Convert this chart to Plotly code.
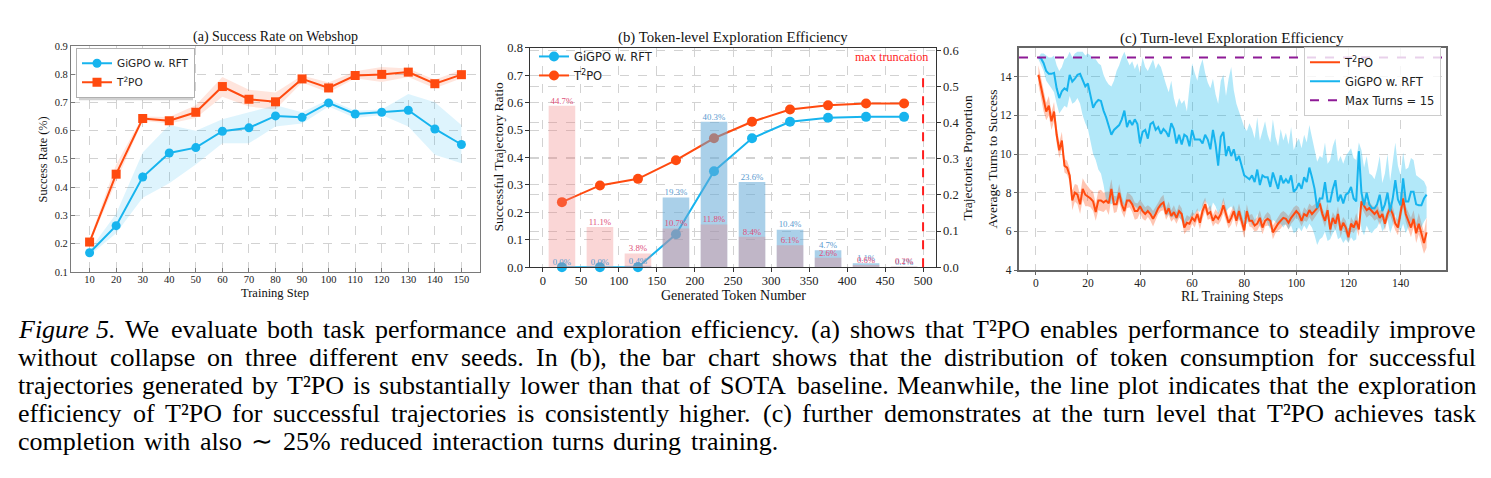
import re
import plotly.graph_objects as go

# ---------------- data: panel (a) Success Rate on Webshop ----------------
steps_a = [10, 20, 30, 40, 50, 60, 70, 80, 90, 100, 110, 120, 130, 140, 150]
gigpo_sr = [0.168, 0.264, 0.436, 0.521, 0.540, 0.598, 0.610, 0.652, 0.647, 0.698, 0.659, 0.665, 0.672, 0.606, 0.551]
gigpo_sr_lo = [0.158, 0.237, 0.363, 0.414, 0.480, 0.555, 0.555, 0.615, 0.625, 0.685, 0.645, 0.655, 0.615, 0.515, 0.485]
gigpo_sr_hi = [0.178, 0.306, 0.523, 0.620, 0.600, 0.640, 0.665, 0.690, 0.665, 0.710, 0.670, 0.675, 0.730, 0.700, 0.620]
t2po_sr = [0.206, 0.446, 0.643, 0.635, 0.665, 0.756, 0.711, 0.702, 0.783, 0.751, 0.795, 0.799, 0.807, 0.766, 0.798]
t2po_sr_lo = [0.198, 0.420, 0.635, 0.625, 0.645, 0.720, 0.685, 0.675, 0.770, 0.735, 0.785, 0.772, 0.790, 0.750, 0.785]
t2po_sr_hi = [0.214, 0.480, 0.650, 0.648, 0.690, 0.790, 0.745, 0.735, 0.795, 0.770, 0.810, 0.825, 0.820, 0.780, 0.815]

# ---------------- data: panel (b) Token-level Exploration Efficiency ----------------
token_bins = [25, 75, 125, 175, 225, 275, 325, 375, 425, 475]
gigpo_ratio = [0.0, 0.0, 0.0, 0.12, 0.35, 0.47, 0.53, 0.545, 0.548, 0.548]
t2po_ratio = [0.237, 0.298, 0.322, 0.390, 0.470, 0.530, 0.575, 0.590, 0.597, 0.597]
gigpo_prop = [0.0, 0.0, 0.4, 19.3, 40.3, 23.6, 10.4, 4.7, 1.1, 0.1]   # percent
t2po_prop = [44.7, 11.1, 3.8, 10.7, 11.8, 8.4, 6.1, 2.6, 0.6, 0.2]     # percent
max_tokens = 500

# ---------------- data: panel (c) Turn-level Exploration Efficiency ----------------
rl_steps = list(range(1, 151))
t2po_turns = [
    14.1, 13.4, 12.7, 12.2, 12.5, 11.7, 12.2, 11.0, 10.2, 10.7,
    9.4, 9.3, 8.9, 7.6, 8.0, 7.9, 7.4, 8.2, 7.9, 7.8,
    7.7, 7.55, 7.0, 7.6, 7.6, 7.5, 7.6, 7.45, 8.2, 7.4,
    7.4, 8.0, 7.4, 7.05, 7.6, 7.6, 7.4, 7.05, 7.05, 7.3,
    7.05, 6.9, 7.05, 6.9, 6.65, 6.9, 7.2, 7.4, 7.5, 6.9,
    7.2, 6.8, 7.0, 6.7, 7.05, 6.9, 6.2, 6.45, 6.4, 6.7,
    6.55, 6.9, 6.45, 7.05, 7.4, 6.9, 7.0, 6.55, 6.8, 6.65,
    6.9, 7.35, 6.9, 6.45, 6.7, 7.05, 6.55, 7.05, 6.55, 6.05,
    7.05, 6.55, 6.55, 6.3, 6.4, 6.7, 6.2, 6.55, 6.65, 6.55,
    5.95, 6.2, 6.4, 6.55, 6.7, 6.65, 6.45, 6.7, 6.9, 7.05,
    6.9, 6.55, 6.9, 6.8, 7.1, 6.9, 7.05, 7.2, 7.45, 6.9,
    6.55, 7.1, 6.1, 6.7, 6.4, 6.9, 6.05, 6.45, 6.2, 5.7,
    6.4, 6.2, 6.55, 6.1, 7.55, 7.35, 7.1, 7.2, 7.05, 6.9,
    7.05, 6.7, 6.9, 6.4, 6.9, 7.2, 6.9, 6.4, 6.2, 6.9,
    7.7, 6.9, 6.55, 6.2, 6.65, 5.9, 6.4, 5.9, 5.4, 5.95,
]
t2po_turns_sd = [
    0.5, 0.55, 0.5, 0.45, 0.5, 0.45, 0.5, 0.45, 0.4, 0.45, 0.35, 0.35, 0.35,
    0.5, 0.45, 0.5, 0.5, 0.55, 0.6, 0.5, 0.45, 0.5, 0.45, 0.5, 0.55, 0.5, 0.45, 0.6, 0.5, 0.45,
    0.4, 0.45, 0.4, 0.35, 0.4, 0.35, 0.4, 0.45, 0.4, 0.35,
    0.4, 0.35, 0.3, 0.35, 0.4, 0.35, 0.3, 0.35, 0.4, 0.3,
    0.35, 0.3, 0.35, 0.3, 0.35, 0.3, 0.35, 0.4, 0.35, 0.3,
    0.35, 0.3, 0.35, 0.4, 0.35, 0.3, 0.35, 0.3, 0.35, 0.3,
    0.35, 0.4, 0.35, 0.3, 0.35, 0.3, 0.35, 0.4, 0.35, 0.4,
    0.35, 0.3, 0.35, 0.3, 0.35, 0.4, 0.35, 0.3, 0.35, 0.3,
    0.35, 0.3, 0.35, 0.4, 0.35, 0.3, 0.35, 0.3, 0.35, 0.3,
    0.35, 0.3, 0.35, 0.3, 0.35, 0.4, 0.35, 0.3, 0.35, 0.3,
    0.35, 0.4, 0.35, 0.3, 0.35, 0.4, 0.35, 0.3, 0.35, 0.3,
    0.35, 0.3, 0.4, 0.35, 0.3, 0.35, 0.4, 0.35, 0.3, 0.35,
    0.4, 0.35, 0.3, 0.35, 0.3, 0.35, 0.4, 0.35, 0.4, 0.45,
    0.45, 0.4, 0.45, 0.5, 0.45, 0.5, 0.55, 0.6, 0.55, 0.8,
]
gigpo_turns = [
    15.0, 14.95, 14.7, 14.3, 14.15, 14.15, 14.2, 13.4, 12.9, 13.25,
    13.4, 13.3, 14.1, 13.75, 13.9, 14.1, 14.15, 13.8, 13.5, 13.65,
    13.1, 12.4, 12.65, 12.8, 12.75, 12.25, 11.9, 11.5, 11.0, 11.25,
    11.4, 11.5, 11.8, 12.25, 11.4, 11.75, 11.5, 11.8, 11.55, 10.55,
    11.15, 11.25, 10.8, 11.55, 11.65, 11.25, 11.4, 11.05, 11.3, 11.15,
    10.9, 11.6, 11.3, 10.55, 11.0, 10.5, 11.0, 10.9, 10.4, 11.25,
    10.75, 10.75, 10.75, 10.55, 11.0, 10.75, 10.25, 11.25, 10.5, 9.4,
    10.9, 11.15, 9.9, 10.4, 9.9, 10.25, 9.65, 9.9, 9.4, 8.9,
    8.8, 8.7, 8.9, 8.55, 9.2, 8.4, 8.9, 8.8, 8.8, 8.3,
    9.05, 8.55, 8.2, 8.9, 8.5, 8.7, 8.5, 8.9, 8.05, 8.2,
    8.5, 8.2, 8.8, 8.55, 9.3, 8.8, 8.2, 7.2, 7.7, 7.7,
    8.55, 7.55, 7.55, 8.2, 8.65, 7.55, 7.9, 7.45, 7.9, 8.0,
    8.3, 7.7, 7.55, 10.15, 8.0, 7.35, 8.0, 7.4, 7.2, 7.2,
    7.4, 7.9, 7.05, 7.4, 8.0, 7.05, 7.7, 8.65, 7.65, 7.35,
    8.75, 7.55, 7.55, 8.05, 8.05, 7.4, 7.35, 7.35, 7.7, 7.9,
]
gigpo_turns_lo = [
    14.9, 14.6, 14.3, 13.8, 13.6, 13.4, 13.2, 12.6, 12.1, 12.3,
    12.5, 12.4, 13.0, 12.6, 12.7, 12.9, 12.6, 12.0, 11.6, 11.3,
    10.6, 10.0, 9.7, 9.2, 9.0, 8.4, 7.6, 7.5, 7.4, 7.5,
    7.6, 7.7, 7.5, 7.3, 7.6, 7.5, 7.4, 7.3, 7.2, 7.1,
    7.0, 6.9, 7.1, 7.0, 6.8, 6.9, 7.2, 7.2, 7.3, 6.8,
    6.9, 6.7, 6.8, 6.6, 6.8, 6.5, 6.3, 6.5, 6.6, 6.8,
    6.9, 7.1, 7.0, 7.3, 7.6, 7.4, 7.0, 7.5, 7.3, 6.9,
    7.2, 7.6, 7.0, 7.2, 7.3, 7.1, 6.8, 6.6, 6.5, 6.3,
    6.4, 6.6, 6.3, 6.4, 6.9, 6.2, 6.5, 6.7, 6.4, 6.1,
    6.6, 6.5, 6.3, 6.4, 6.2, 6.4, 6.1, 6.3, 5.9, 6.0,
    6.2, 6.0, 6.3, 6.1, 6.4, 6.2, 5.8, 5.3, 5.6, 5.7,
    6.0, 5.5, 5.6, 5.9, 6.1, 5.6, 5.7, 5.4, 5.6, 5.4,
    5.7, 5.5, 5.6, 7.3, 6.1, 5.8, 6.3, 6.0, 5.9, 6.1,
    6.2, 6.5, 6.0, 6.2, 6.6, 5.9, 6.3, 6.9, 6.2, 6.0,
    6.4, 5.9, 6.2, 6.5, 6.6, 6.3, 6.1, 6.2, 6.5, 6.7,
]
gigpo_turns_hi = [
    15.0, 15.2, 15.2, 15.1, 15.0, 15.0, 15.1, 14.6, 14.3, 14.5,
    14.9, 15.0, 15.3, 15.0, 15.2, 15.3, 15.3, 15.3, 15.1, 15.2,
    15.1, 14.9, 14.9, 14.7, 14.6, 14.1, 13.8, 13.6, 13.5, 13.8,
    14.3, 14.6, 15.0, 15.3, 14.9, 14.6, 14.8, 14.4, 14.7, 14.2,
    15.0, 14.5, 14.3, 14.6, 14.9, 14.4, 14.7, 14.5, 14.0, 13.6,
    13.2, 13.8, 12.9, 12.4, 12.9, 12.6, 12.8, 12.2, 13.5, 14.7,
    14.2, 13.8, 14.5, 14.9, 14.2, 13.7, 13.4, 13.9, 13.1, 12.6,
    13.8, 14.1, 13.0, 13.9, 14.5, 13.3, 12.6, 12.2, 11.8, 11.4,
    11.2, 11.6, 11.3, 10.8, 11.9, 10.7, 11.2, 11.7, 11.0, 10.6,
    11.8, 10.9, 10.4, 11.3, 10.7, 11.1, 10.5, 11.4, 10.2, 10.6,
    10.8, 10.3, 11.0, 10.6, 11.5, 10.9, 10.2, 9.6, 9.9, 9.8,
    10.6, 9.5, 9.7, 10.4, 10.8, 9.6, 9.9, 9.5, 9.9, 10.1,
    10.3, 9.8, 9.7, 10.6, 10.2, 9.3, 9.9, 9.0, 8.9, 8.7,
    9.2, 9.9, 8.5, 9.0, 10.0, 8.6, 9.6, 10.6, 9.4, 8.9,
    10.1, 9.2, 9.3, 9.8, 9.7, 8.9, 8.8, 8.7, 8.6, 8.3,
]
max_turns = 15

# ---------------- caption text ----------------
caption_lines = [
    "<i>Figure</i> <i>5.</i> We evaluate both task performance and exploration efficiency. (a) shows that T²PO enables performance to steadily improve",
    "without collapse on three different env seeds. In (b), the bar chart shows that the distribution of token consumption for successful",
    "trajectories generated by T²PO is substantially lower than that of SOTA baseline. Meanwhile, the line plot indicates that the exploration",
    "efficiency of T²PO for successful trajectories is consistently higher. (c) further demonstrates at the turn level that T²PO achieves task",
    "completion with also ∼ 25% reduced interaction turns during training.",
]

# ---------------- styling ----------------
W, H = 1491, 478


def fx(px):
    return px / W


def fy(py):
    return 1 - py / H


SERIF = "Liberation Serif, Times New Roman, serif"
SANS = "DejaVu Sans, Arial, sans-serif"
BLUE = "#17B4EE"
ORANGE = "#FF4A0F"
PURPLE = "#8E1A96"
GRID = "#d2d2d2"

fig = go.Figure()


def band(x, lo, hi, color, xa, ya):
    return go.Scatter(x=list(x) + list(x)[::-1], y=list(hi) + list(lo)[::-1],
                      fill="toself", fillcolor=color, line=dict(width=0),
                      mode="lines", hoverinfo="skip", showlegend=False,
                      xaxis=xa, yaxis=ya)


# ---- panel (a)
fig.add_trace(band(steps_a, gigpo_sr_lo, gigpo_sr_hi, "rgba(23,180,238,0.14)", "x", "y"))
fig.add_trace(band(steps_a, t2po_sr_lo, t2po_sr_hi, "rgba(255,74,15,0.14)", "x", "y"))
fig.add_trace(go.Scatter(x=steps_a, y=gigpo_sr, mode="lines+markers", name="GiGPO w. RFT",
                         line=dict(color=BLUE, width=2), marker=dict(symbol="circle", size=9, color=BLUE),
                         xaxis="x", yaxis="y", legend="legend", cliponaxis=False))
fig.add_trace(go.Scatter(x=steps_a, y=t2po_sr, mode="lines+markers", name="T<sup>2</sup>PO",
                         line=dict(color=ORANGE, width=2), marker=dict(symbol="square", size=9, color=ORANGE),
                         xaxis="x", yaxis="y", legend="legend", cliponaxis=False))

# ---- panel (b) lines (left axis)
fig.add_trace(go.Scatter(x=token_bins, y=gigpo_ratio, mode="lines+markers", name="GiGPO w. RFT",
                         line=dict(color=BLUE, width=2), marker=dict(size=10, color=BLUE),
                         xaxis="x2", yaxis="y2", legend="legend2", cliponaxis=False))
fig.add_trace(go.Scatter(x=token_bins, y=t2po_ratio, mode="lines+markers", name="T<sup>2</sup>PO",
                         line=dict(color=ORANGE, width=2), marker=dict(size=10, color=ORANGE),
                         xaxis="x2", yaxis="y2", legend="legend2", cliponaxis=False))
# ---- panel (b) bars (right axis, drawn on top)
fig.add_trace(go.Bar(x=token_bins, y=[v / 100 for v in gigpo_prop], width=35,
                     marker=dict(color="rgba(100,170,215,0.55)", line=dict(width=0)),
                     xaxis="x2", yaxis="y3", showlegend=False, hoverinfo="skip"))
fig.add_trace(go.Bar(x=token_bins, y=[v / 100 for v in t2po_prop], width=35,
                     marker=dict(color="rgba(240,128,128,0.32)", line=dict(width=0)),
                     xaxis="x2", yaxis="y3", showlegend=False, hoverinfo="skip"))
fig.add_trace(go.Scatter(x=token_bins, y=[v / 100 for v in gigpo_prop], mode="text",
                         text=[f"{v:.1f}%" for v in gigpo_prop], textposition="top center",
                         textfont=dict(family=SERIF, size=8.8, color="#5a9bd0"),
                         xaxis="x2", yaxis="y3", showlegend=False, cliponaxis=False, hoverinfo="skip"))
fig.add_trace(go.Scatter(x=token_bins, y=[v / 100 for v in t2po_prop], mode="text",
                         text=[f"{v:.1f}%" for v in t2po_prop], textposition="top center",
                         textfont=dict(family=SERIF, size=8.8, color="#e0507a"),
                         xaxis="x2", yaxis="y3", showlegend=False, cliponaxis=False, hoverinfo="skip"))

# ---- panel (c)
t2po_lo = [m - s for m, s in zip(t2po_turns, t2po_turns_sd)]
t2po_hi = [m + s for m, s in zip(t2po_turns, t2po_turns_sd)]
fig.add_trace(band(rl_steps, t2po_lo, t2po_hi, "rgba(255,74,15,0.32)", "x3", "y4"))
fig.add_trace(band(rl_steps, gigpo_turns_lo, gigpo_turns_hi, "rgba(0,180,235,0.30)", "x3", "y4"))
fig.add_trace(go.Scatter(x=rl_steps, y=t2po_turns, mode="lines", name="T<sup>2</sup>PO",
                         line=dict(color=ORANGE, width=2), xaxis="x3", yaxis="y4", legend="legend3"))
fig.add_trace(go.Scatter(x=rl_steps, y=gigpo_turns, mode="lines", name="GiGPO w. RFT",
                         line=dict(color=BLUE, width=2), xaxis="x3", yaxis="y4", legend="legend3"))
fig.add_trace(go.Scatter(x=[None], y=[None], mode="lines", name=f"Max Turns = {max_turns}",
                         line=dict(color=PURPLE, width=2, dash="dash"), xaxis="x3", yaxis="y4",
                         legend="legend3"))

shapes = [
    dict(type="line", xref="x2", yref="y2 domain", x0=max_tokens, x1=max_tokens, y0=0, y1=0.9,
         line=dict(color="#ff1e1e", width=2, dash="dash"), layer="above"),
    dict(type="line", xref="x3 domain", yref="y4", x0=0, x1=1, y0=max_turns, y1=max_turns,
         line=dict(color=PURPLE, width=2, dash="dash"), layer="above"),
    # soft shadow behind legend (a)
    dict(type="rect", xref="paper", yref="paper", x0=fx(79), x1=fx(193), y0=fy(96), y1=fy(50),
         fillcolor="rgba(0,0,0,0.18)", line=dict(width=0), layer="above"),
]


def axis_common(linecolor, lw, size, ticks="outside", standoff=0):
    return dict(showline=True, mirror=True, linecolor=linecolor, linewidth=lw,
                showgrid=True, gridcolor=GRID, griddash="dash", gridwidth=0.8,
                zeroline=False, ticks=ticks, ticklen=3.5, tickcolor=linecolor, tickwidth=1,
                ticklabelstandoff=standoff,
                tickfont=dict(family=SERIF, size=size, color="#222"))


layout = dict(
    width=W, height=H, margin=dict(l=0, r=0, t=0, b=0),
    paper_bgcolor="white", plot_bgcolor="white", barmode="overlay",
    xaxis=dict(domain=[fx(71), fx(480)], anchor="y", range=[3, 157], tick0=10, dtick=10,
               **axis_common("#7a7a7a", 1.2, 10.5, "inside", -3)),
    yaxis=dict(domain=[fy(273), fy(40)], anchor="x", range=[0.1, 0.9], dtick=0.1, tickformat=".1f",
               **axis_common("#7a7a7a", 1.2, 10.5, "inside")),
    xaxis2=dict(domain=[fx(530), fx(936)], anchor="y2", range=[-17, 517], tick0=0, dtick=50,
                **axis_common("#333333", 1.2, 12.5, "outside", -2)),
    yaxis2=dict(domain=[fy(268), fy(42)], anchor="x2", range=[0, 0.8], dtick=0.1, tickformat=".1f",
                **axis_common("#333333", 1.2, 12.5)),
    yaxis3=dict(overlaying="y2", side="right", anchor="x2", range=[0, 0.608], dtick=0.1, tickformat=".1f",
                **axis_common("#333333", 1.2, 12.5)),
    xaxis3=dict(domain=[fx(1019), fx(1446)], anchor="y4", range=[-6.45, 157.45], tick0=0, dtick=20,
                **axis_common("#666666", 1.6, 11.5, "outside", -2)),
    yaxis4=dict(domain=[fy(271), fy(42)], anchor="x3", range=[4, 15.5], tick0=4, dtick=2,
                **axis_common("#666666", 1.6, 11.5)),
    legend=dict(x=fx(76), y=fy(42), xanchor="left", yanchor="top", bgcolor="white",
                bordercolor="#b0b0b0", borderwidth=1, font=dict(family=SANS, size=10.5, color="#222"),
                itemwidth=30),
    legend2=dict(x=fx(534), y=fy(36), xanchor="left", yanchor="top", bgcolor="rgba(255,255,255,0)",
                 borderwidth=0, font=dict(family=SANS, size=11.5, color="#222"), itemwidth=30),
    legend3=dict(x=fx(1304), y=fy(41), xanchor="left", yanchor="top", bgcolor="rgba(255,255,255,0.8)",
                 bordercolor="#cccccc", borderwidth=1, font=dict(family=SANS, size=11.5, color="#222"),
                 itemwidth=30),
    shapes=shapes,
)
fig.update_layout(**layout)

ann = []


def text(x, y, s, size, angle=0, color="#111", family=SERIF, xanchor="center"):
    ann.append(dict(x=fx(x), y=fy(y), xref="paper", yref="paper", text=s, showarrow=False,
                    textangle=angle, xanchor=xanchor, yanchor="middle", borderpad=0,
                    font=dict(family=family, size=size, color=color)))


# titles
text(275, 31, "(a) Success Rate on Webshop", 14)
text(733, 31, "(b) Token-level Exploration Efficiency", 14.8)
text(1232, 32, "(c) Turn-level Exploration Efficiency", 15)
# axis titles
text(43, 157, "Success Rate (%)", 12.3, -90)
text(275, 295, "Training Step", 12.5)
text(498, 155, "Successful Trajectory Ratio", 13.5, -90)
text(967, 155, "Trajectories Proportion", 13.5, -90)
text(733, 297, "Generated Token Number", 14)
text(992, 157, "Average Turns to Success", 13.5, -90)
text(1232, 298, "RL Training Steps", 14)
# max truncation label
text(929, 51, "max truncation", 12.2, color="#ff1e1e", xanchor="right")

# ---- caption: justified lines laid out word by word (Times metrics for spacing)
TIMES = {" ": 250, "!": 333, "%": 833, "(": 333, ")": 333, ",": 250, "-": 333, ".": 250, ":": 278,
         "²": 300, "∼": 900,
         "0": 500, "1": 500, "2": 500, "3": 500, "4": 500, "5": 500, "6": 500, "7": 500, "8": 500, "9": 500,
         "A": 722, "B": 667, "C": 667, "D": 722, "E": 611, "F": 556, "G": 722, "H": 722, "I": 333,
         "J": 389, "K": 722, "L": 611, "M": 889, "N": 722, "O": 722, "P": 556, "Q": 722, "R": 667,
         "S": 556, "T": 611, "U": 722, "V": 722, "W": 944, "X": 722, "Y": 722, "Z": 611,
         "a": 444, "b": 500, "c": 444, "d": 500, "e": 444, "f": 333, "g": 500, "h": 500, "i": 278,
         "j": 278, "k": 500, "l": 278, "m": 778, "n": 500, "o": 500, "p": 500, "q": 500, "r": 333,
         "s": 389, "t": 278, "u": 500, "v": 500, "w": 722, "x": 500, "y": 500, "z": 444}
CAP_SIZE = 26
CAP_LEFT = 17
CAP_RIGHTS = [1475, 1475, 1475, 1475, 777]   # right edge of each caption line


def word_width(word, size):
    plain = re.sub(r"<.*?>", "", word)
    return sum(TIMES.get(c, 500) for c in plain) * size / 1000.0


for i, line in enumerate(caption_lines):
    y = 332 + 29 * i
    words = line.split(" ")
    widths = [word_width(w, CAP_SIZE) for w in words]
    gap = (CAP_RIGHTS[i] - CAP_LEFT - sum(widths)) / (len(words) - 1)
    x = CAP_LEFT
    for w, wd in zip(words, widths):
        text(x, y, w, CAP_SIZE, color="#000", xanchor="left")
        x += wd + gap

fig.update_layout(annotations=ann)
fig.write_html("out.html")
